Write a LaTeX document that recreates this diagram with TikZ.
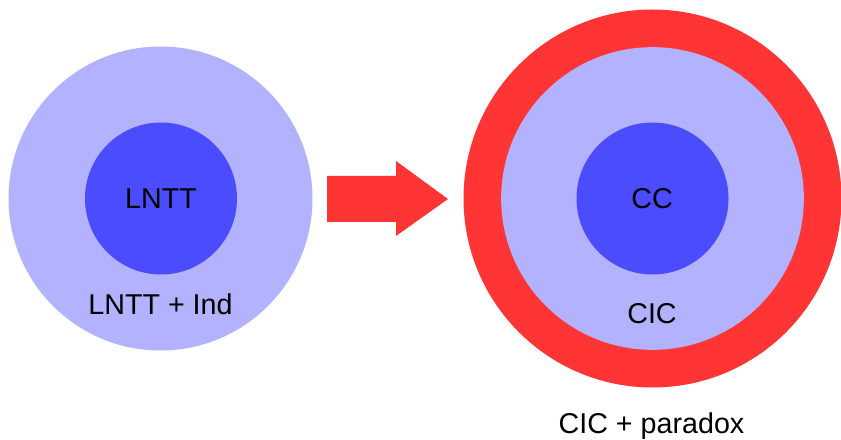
\documentclass[tikz,border=0pt]{standalone}
\usepackage{fontspec}
\setmainfont{Liberation Sans}
\usetikzlibrary{positioning}
\definecolor{ringLav}{RGB}{178, 178, 255}
\definecolor{coreBlue}{RGB}{76, 76, 255}
\definecolor{ringRed}{RGB}{255, 53, 53}

\begin{document}
\begin{tikzpicture}[x=0.75pt, y=0.75pt, every node/.style={font=\fontsize{21.5}{26}\selectfont, inner sep=0pt}]
                    \useasboundingbox (0,0) rectangle (841,439);
                    % left: LNTT inside LNTT + Ind
                    \node[
                        circle,
                        fill=ringLav,
                        minimum size=228pt
                    ] (lnttind) at (160.5,240.5) {};
                    \node[
                        circle,
                        fill=coreBlue,
                        minimum size=114pt
                    ] (lntt) at (161,240.5) {};
                    \node[anchor=base] (lnttlabel) at (161,230) {LNTT};
                    \node[anchor=base] (lnttindlabel) at (160.5,124) {LNTT + Ind};
                    % block arrow
                    \fill[ringRed] (327,263) -- (396,263) -- (396,278) -- (448,240)
                        -- (396,203) -- (396,217) -- (327,217) -- cycle;
                    % right: CC inside CIC inside CIC + paradox
                    \node[
                        circle,
                        fill=ringRed,
                        minimum size=283.5pt
                    ] (paradox) at (652.5,240.5) {};
                    \node[
                        circle,
                        fill=ringLav,
                        minimum size=227pt
                    ] (cic) at (652.5,240.5) {};
                    \node[
                        circle,
                        fill=coreBlue,
                        minimum size=114pt
                    ] (cc) at (652.5,240.5) {};
                    \node[anchor=base] (cclabel) at (652,230) {CC};
                    \node[anchor=base] (ciclabel) at (652,116) {CIC};
                    \node[anchor=base] (paradoxlabel) at (651.5,6) {CIC + paradox};
                \end{tikzpicture}
\end{document}
